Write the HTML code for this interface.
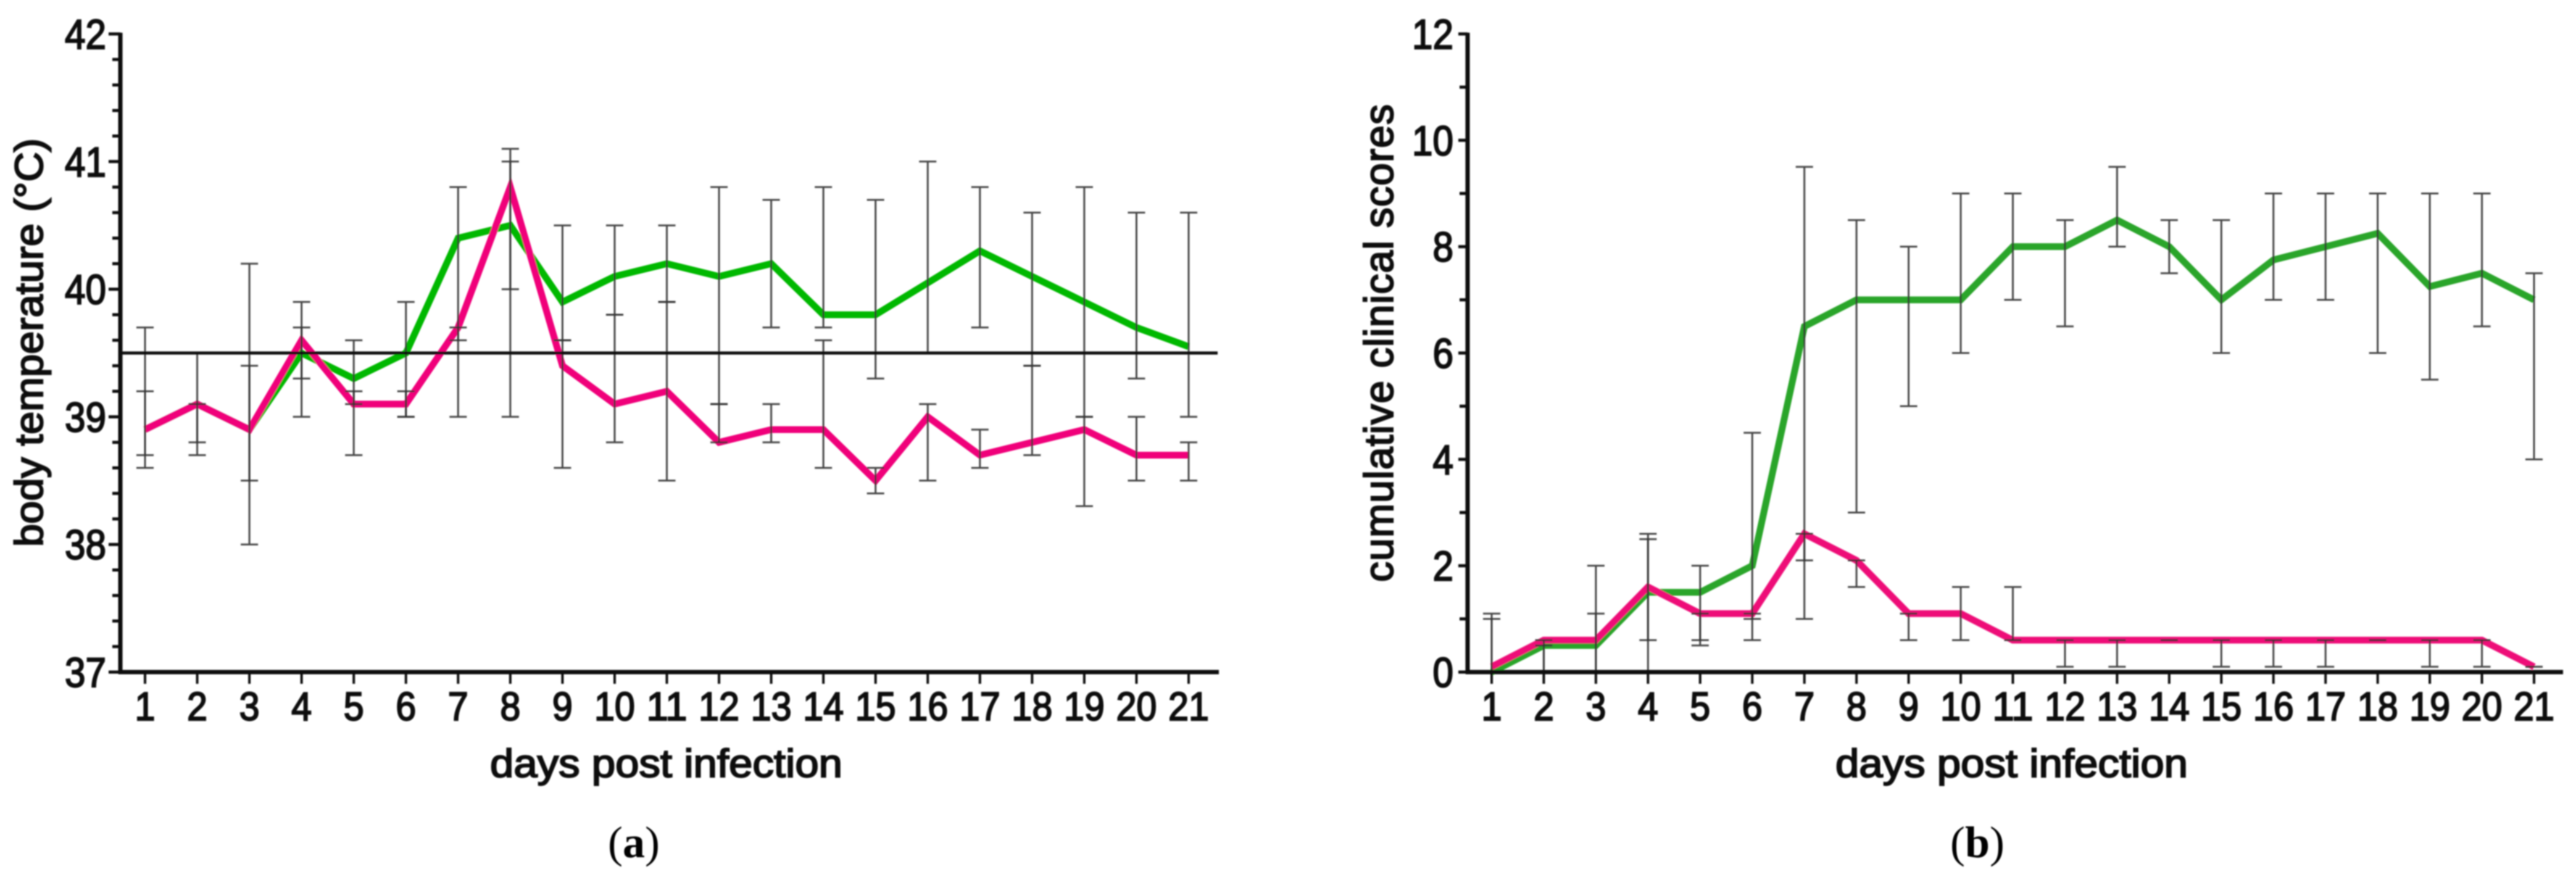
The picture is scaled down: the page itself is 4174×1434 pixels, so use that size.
<!DOCTYPE html>
<html lang="en">
<head>
<meta charset="utf-8">
<title>Body temperature and clinical scores</title>
<style>
html,body{margin:0;padding:0;background:#fff;}
svg{display:block;}
text{font-family:"Liberation Sans",sans-serif;fill:#0c0c0c;}
.tick{stroke:#0c0c0c;stroke-width:2.2px;}
.title{stroke:#0c0c0c;stroke-width:2.2px;}
.cap{font-family:"Liberation Serif",serif;font-size:72px;fill:#000;}
</style>
</head>
<body>
<svg id="figure" xmlns="http://www.w3.org/2000/svg" width="4174" height="1434" viewBox="0 0 4174 1434">
  <defs><filter id="soft" x="-2%" y="-2%" width="104%" height="104%"><feGaussianBlur stdDeviation="1"/></filter></defs>
  <rect width="4174" height="1434" fill="#fff"/>
  <g id="root" filter="url(#soft)">
    <text class="title" transform="translate(69,886) rotate(-90)" font-size="64" textLength="662" lengthAdjust="spacingAndGlyphs">body temperature (°C)</text>
    <text class="title" x="794" y="1259" font-size="64" textLength="571" lengthAdjust="spacingAndGlyphs">days post infection</text>
    <text class="title" transform="translate(2257,943) rotate(-90)" font-size="66" textLength="774" lengthAdjust="spacing">cumulative clinical scores</text>
    <text class="title" x="2974" y="1259" font-size="64" textLength="571" lengthAdjust="spacingAndGlyphs">days post infection</text>
    <text class="cap" x="985" y="1389">(<tspan font-weight="bold">a</tspan>)</text>
    <text class="cap" x="3160" y="1389">(<tspan font-weight="bold">b</tspan>)</text>
  </g>
</svg>
<script>
var days = [1,2,3,4,5,6,7,8,9,10,11,12,13,14,15,16,17,18,19,20,21];

var tempTicks = [37,38,39,40,41,42];
var tempMinorTicks = [37.2,37.4,37.6,37.8,38.2,38.4,38.6,38.8,39.2,39.4,39.6,39.8,40.2,40.4,40.6,40.8,41.2,41.4,41.6,41.8];
var tempReference = 39.5;
var tempGreen = [38.9,39.1,38.9,39.5,39.3,39.5,40.4,40.5,39.9,40.1,40.2,40.1,40.2,39.8,39.8,40.05,40.3,40.1,39.9,39.7,39.55];
var tempGreenHi = [39.7,39.5,40.2,39.9,39.6,39.9,40.8,41.1,40.5,40.5,40.5,40.8,40.7,40.8,40.7,41.0,40.8,40.6,40.8,40.6,40.6];
var tempGreenLo = [38.6,38.7,38.0,39.0,39.1,39.0,39.0,40.0,39.6,39.8,39.9,39.1,39.7,39.7,39.3,39.5,39.7,39.4,39.0,39.3,39.0];
var tempPink = [38.9,39.1,38.9,39.6,39.1,39.1,39.7,40.8,39.4,39.1,39.2,38.8,38.9,38.9,38.5,39.0,38.7,38.8,38.9,38.7,38.7];
var tempPinkHi = [39.2,39.1,39.4,39.7,39.2,39.2,39.7,41.0,39.6,39.8,39.9,39.1,39.1,39.6,38.6,39.1,38.9,39.4,39.0,39.0,38.8];
var tempPinkLo = [38.7,38.8,38.5,39.3,38.7,39.0,39.6,39.0,38.6,38.8,38.5,38.8,38.8,38.6,38.4,38.5,38.6,38.7,38.3,38.5,38.5];

var scoreTicks = [0,2,4,6,8,10,12];
var scoreMinorTicks = [1,3,5,7,9,11];
var scoreGreen = [0,0.5,0.5,1.5,1.5,2,6.5,7,7,7,8,8,8.5,8,7,7.75,8,8.25,7.25,7.5,7];
var scoreGreenHi = [1.0,0.5,2,2.5,2,4.5,9.5,8.5,8,9,9,8.5,9.5,8.5,8.5,9,9,9,9,9,7.5];
var scoreGreenLo = [0,0,0,0,0.5,1,1,3,5,6,7,6.5,8,7.5,6,7,7,6,5.5,6.5,4];
var scorePink = [0.1,0.6,0.6,1.6,1.1,1.1,2.6,2.1,1.1,1.1,0.6,0.6,0.6,0.6,0.6,0.6,0.6,0.6,0.6,0.6,0.1];
var scorePinkHi = [1.1,0.6,1.1,2.6,1.1,1.1,2.6,2.1,1.1,1.6,1.6,0.6,0.6,0.6,0.6,0.6,0.6,0.6,0.6,0.6,0.1];
var scorePinkLo = [0,0,0,0.6,0.6,0.6,2.1,1.6,0.6,0.6,0.6,0.1,0.1,0.6,0.1,0.1,0.1,0.6,0.1,0.1,0.1];

var NS = 'http://www.w3.org/2000/svg';
var root = document.getElementById('root');

function make(tag, attrs, parent) {
  var el = document.createElementNS(NS, tag);
  for (var k in attrs) { el.setAttribute(k, attrs[k]); }
  (parent || root).appendChild(el);
  return el;
}

function drawPanel(p) {
  var g = make('g', {});
  
  

  function xOf(d) { return p.x1 + (d - 1) * (p.x21 - p.x1) / 20; }
  function yOf(v) { return p.yBottom - (v - p.vMin) * (p.yBottom - p.yTop) / (p.vMax - p.vMin); }

  function series(values, color, name) {
    var pts = values.map(function (v, i) { return xOf(days[i]) + ',' + yOf(v); }).join(' ');
    var line = make('polyline', {points: pts, fill: 'none', stroke: color, 'stroke-width': 11, 'stroke-linejoin': 'miter'}, g);
    
    
  }

  function errorBars(hi, lo, name) {
    hi.forEach(function (h, i) {
      var x = xOf(days[i]);
      var bar = make('g', {stroke: '#333', 'stroke-width': 3, opacity: 0.9}, g);
      
      
      make('line', {x1: x, x2: x, y1: yOf(h), y2: yOf(lo[i])}, bar);
      make('line', {x1: x - 14, x2: x + 14, y1: yOf(h), y2: yOf(h)}, bar);
      make('line', {x1: x - 14, x2: x + 14, y1: yOf(lo[i]), y2: yOf(lo[i])}, bar);
    });
  }

  series(p.green, p.greenColor, p.id + '-green-line');
  series(p.pink, p.pinkColor, p.id + '-pink-line');
  errorBars(p.greenHi, p.greenLo, p.id + '-green-error-bar');
  errorBars(p.pinkHi, p.pinkLo, p.id + '-pink-error-bar');

  if (p.reference !== undefined) {
    var ref = make('line', {x1: p.axisX, x2: p.axisEnd - 2, y1: yOf(p.reference), y2: yOf(p.reference), stroke: '#111', 'stroke-width': 5}, g);
    
    
  }

  var yAxis = make('line', {x1: p.axisX, x2: p.axisX, y1: yOf(p.vMax) - 2, y2: yOf(p.vMin) + 3, stroke: '#111', 'stroke-width': 7}, g);
  
  
  var xAxis = make('line', {x1: p.axisX - 3, x2: p.axisEnd, y1: yOf(p.vMin), y2: yOf(p.vMin), stroke: '#111', 'stroke-width': 7}, g);
  
  

  p.ticks.forEach(function (v) {
    var t = make('line', {x1: p.axisX - p.majorLen, x2: p.axisX, y1: yOf(v), y2: yOf(v), stroke: '#111', 'stroke-width': 5}, g);
    
    
    var s = String(v);
    var label = make('text', {x: p.labelRight, y: yOf(v) + 24, 'font-size': 68, 'text-anchor': 'end', 'class': 'tick', textLength: s.length * 33.5, lengthAdjust: 'spacingAndGlyphs'}, g);
    label.textContent = s;
    
    
  });
  p.minorTicks.forEach(function (v) {
    var t = make('line', {x1: p.axisX - p.minorLen, x2: p.axisX, y1: yOf(v), y2: yOf(v), stroke: '#111', 'stroke-width': 5}, g);
    
    
  });
  days.forEach(function (d) {
    var x = xOf(d);
    var t = make('line', {x1: x, x2: x, y1: yOf(p.vMin), y2: yOf(p.vMin) + 19, stroke: '#111', 'stroke-width': 4}, g);
    
    
    var s = String(d);
    var label = make('text', {x: x, y: 1167, 'font-size': 65, 'text-anchor': 'middle', 'class': 'tick', textLength: s.length * 33, lengthAdjust: 'spacingAndGlyphs'}, g);
    label.textContent = s;
    
    
  });
}

drawPanel({
  id: 'panel-a', x1: 235, x21: 1926, axisX: 195, axisEnd: 1975, yTop: 55, yBottom: 1089,
  vMin: 37, vMax: 42, majorLen: 19, minorLen: 13, labelRight: 172,
  ticks: tempTicks, minorTicks: tempMinorTicks, reference: tempReference,
  green: tempGreen, greenHi: tempGreenHi, greenLo: tempGreenLo, greenColor: '#06b806',
  pink: tempPink, pinkHi: tempPinkHi, pinkLo: tempPinkLo, pinkColor: '#f0067a'
});

drawPanel({
  id: 'panel-b', x1: 2417, x21: 4106, axisX: 2378, axisEnd: 4153, yTop: 55, yBottom: 1089,
  vMin: 0, vMax: 12, majorLen: 15, minorLen: 13, labelRight: 2355,
  ticks: scoreTicks, minorTicks: scoreMinorTicks,
  green: scoreGreen, greenHi: scoreGreenHi, greenLo: scoreGreenLo, greenColor: '#2ca52c',
  pink: scorePink, pinkHi: scorePinkHi, pinkLo: scorePinkLo, pinkColor: '#ee0f78'
});
</script>
</body>
</html>
